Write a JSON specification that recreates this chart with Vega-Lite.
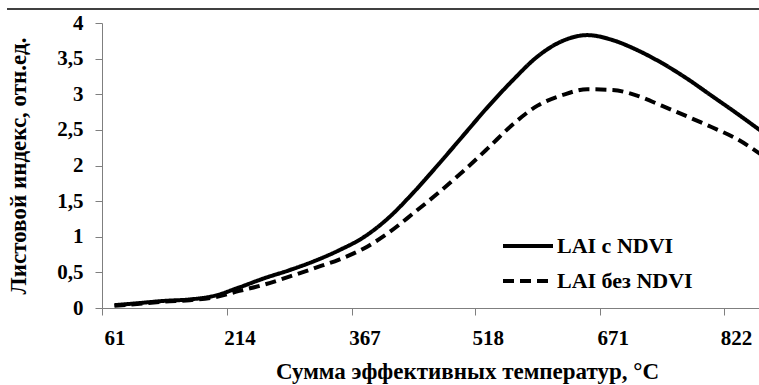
{
  "$schema": "https://vega.github.io/schema/vega-lite/v6.json",
  "width": 657,
  "height": 285,
  "autosize": {"type": "none"},
  "padding": {"left": 102, "top": 23, "right": 0, "bottom": 77},
  "background": "white",
  "config": {
    "view": {"stroke": null},
    "font": "Liberation Serif",
    "axis": {
      "labelFont": "Liberation Serif",
      "labelFontWeight": "bold",
      "labelFontSize": 21,
      "labelColor": "black",
      "titleFont": "Liberation Serif",
      "titleFontWeight": "bold",
      "titleFontSize": 23,
      "titleColor": "black",
      "domainColor": "#7f7f7f",
      "tickColor": "#7f7f7f",
      "domainWidth": 1,
      "tickWidth": 1,
      "tickSize": 7,
      "grid": false
    }
  },
  "resolve": {"axis": {"x": "independent", "y": "independent"}},
  "datasets": {
    "lai": [
      {"t": 61, "series": "LAI с NDVI", "lai": 0.04},
      {"t": 92, "series": "LAI с NDVI", "lai": 0.07},
      {"t": 122, "series": "LAI с NDVI", "lai": 0.10},
      {"t": 153, "series": "LAI с NDVI", "lai": 0.12},
      {"t": 183, "series": "LAI с NDVI", "lai": 0.17},
      {"t": 214, "series": "LAI с NDVI", "lai": 0.29},
      {"t": 245, "series": "LAI с NDVI", "lai": 0.42},
      {"t": 275, "series": "LAI с NDVI", "lai": 0.53},
      {"t": 306, "series": "LAI с NDVI", "lai": 0.66},
      {"t": 336, "series": "LAI с NDVI", "lai": 0.81},
      {"t": 367, "series": "LAI с NDVI", "lai": 1.00},
      {"t": 397, "series": "LAI с NDVI", "lai": 1.27},
      {"t": 427, "series": "LAI с NDVI", "lai": 1.62},
      {"t": 458, "series": "LAI с NDVI", "lai": 2.02},
      {"t": 488, "series": "LAI с NDVI", "lai": 2.42},
      {"t": 518, "series": "LAI с NDVI", "lai": 2.82},
      {"t": 549, "series": "LAI с NDVI", "lai": 3.20},
      {"t": 579, "series": "LAI с NDVI", "lai": 3.53},
      {"t": 610, "series": "LAI с NDVI", "lai": 3.75},
      {"t": 640, "series": "LAI с NDVI", "lai": 3.83},
      {"t": 671, "series": "LAI с NDVI", "lai": 3.76},
      {"t": 701, "series": "LAI с NDVI", "lai": 3.62},
      {"t": 731, "series": "LAI с NDVI", "lai": 3.44},
      {"t": 762, "series": "LAI с NDVI", "lai": 3.22},
      {"t": 792, "series": "LAI с NDVI", "lai": 2.98},
      {"t": 822, "series": "LAI с NDVI", "lai": 2.74},
      {"t": 852, "series": "LAI с NDVI", "lai": 2.49},
      {"t": 61, "series": "LAI без NDVI", "lai": 0.03},
      {"t": 92, "series": "LAI без NDVI", "lai": 0.06},
      {"t": 122, "series": "LAI без NDVI", "lai": 0.09},
      {"t": 153, "series": "LAI без NDVI", "lai": 0.11},
      {"t": 183, "series": "LAI без NDVI", "lai": 0.15},
      {"t": 214, "series": "LAI без NDVI", "lai": 0.24},
      {"t": 245, "series": "LAI без NDVI", "lai": 0.33},
      {"t": 275, "series": "LAI без NDVI", "lai": 0.44},
      {"t": 306, "series": "LAI без NDVI", "lai": 0.56},
      {"t": 336, "series": "LAI без NDVI", "lai": 0.68},
      {"t": 367, "series": "LAI без NDVI", "lai": 0.84},
      {"t": 397, "series": "LAI без NDVI", "lai": 1.06},
      {"t": 427, "series": "LAI без NDVI", "lai": 1.33},
      {"t": 458, "series": "LAI без NDVI", "lai": 1.62},
      {"t": 488, "series": "LAI без NDVI", "lai": 1.92},
      {"t": 518, "series": "LAI без NDVI", "lai": 2.24},
      {"t": 549, "series": "LAI без NDVI", "lai": 2.58},
      {"t": 579, "series": "LAI без NDVI", "lai": 2.84},
      {"t": 610, "series": "LAI без NDVI", "lai": 2.99},
      {"t": 640, "series": "LAI без NDVI", "lai": 3.07},
      {"t": 671, "series": "LAI без NDVI", "lai": 3.06},
      {"t": 701, "series": "LAI без NDVI", "lai": 2.98},
      {"t": 731, "series": "LAI без NDVI", "lai": 2.84},
      {"t": 762, "series": "LAI без NDVI", "lai": 2.69},
      {"t": 792, "series": "LAI без NDVI", "lai": 2.54},
      {"t": 822, "series": "LAI без NDVI", "lai": 2.38},
      {"t": 852, "series": "LAI без NDVI", "lai": 2.16}
    ],
    "frame": [{"label": "top border"}]
  },
  "layer": [
    {
      "data": {"name": "lai"},
      "mark": {"type": "line", "interpolate": "monotone", "strokeWidth": 4, "color": "black", "clip": true},
      "encoding": {
        "x": {
          "field": "t",
          "type": "quantitative",
          "scale": {"domain": [45.7, 850.2], "nice": false, "zero": false},
          "axis": {
            "title": "Сумма эффективных температур, °C",
            "values": [61, 214, 367, 518, 671, 822],
            "tickOffset": -12.4,
            "labelOffset": 12.4,
            "labelFlush": false,
            "labelOverlap": false,
            "labelBound": false,
            "labelPadding": 12,
            "titleX": 365,
            "titlePadding": 12
          }
        },
        "y": {
          "field": "lai",
          "type": "quantitative",
          "scale": {"domain": [0, 4], "nice": false},
          "axis": {
            "title": "Листовой индекс, отн.ед.",
            "values": [0, 0.5, 1, 1.5, 2, 2.5, 3, 3.5, 4],
            "labelExpr": "replace(toString(datum.value), '.', ',')",
            "labelPadding": 12,
            "labelFlush": false,
            "labelOverlap": false,
            "titlePadding": 26
          }
        },
        "strokeDash": {
          "field": "series",
          "type": "nominal",
          "scale": {"domain": ["LAI с NDVI", "LAI без NDVI"], "range": [[1, 0], [11, 6]]},
          "legend": {
            "title": null,
            "orient": "none",
            "legendX": 399,
            "legendY": 212,
            "symbolType": "stroke",
            "symbolSize": 2500,
            "symbolStrokeWidth": 4,
            "symbolStrokeColor": "black",
            "clipHeight": 22,
            "rowPadding": 13,
            "labelOffset": 2,
            "labelFont": "Liberation Serif",
            "labelFontWeight": "bold",
            "labelFontSize": 22,
            "labelColor": "black",
            "labelLimit": 300
          }
        }
      }
    },
    {
      "data": {"name": "frame"},
      "mark": {"type": "rule", "clip": false, "color": "#404040", "strokeWidth": 2},
      "encoding": {
        "x": {"datum": -70.6, "type": "quantitative", "axis": null},
        "x2": {"datum": 900},
        "y": {"datum": 4.196, "type": "quantitative", "axis": null}
      }
    }
  ]
}
